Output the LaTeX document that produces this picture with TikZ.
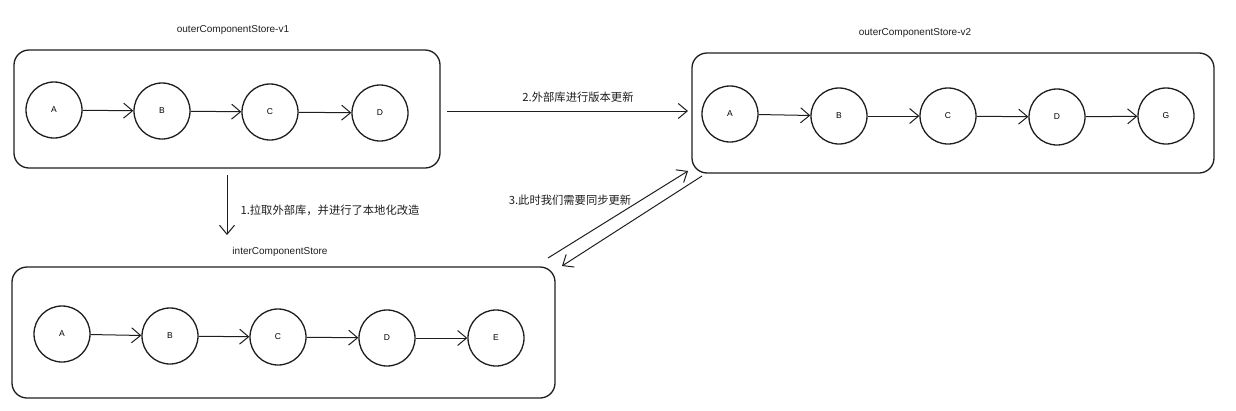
\documentclass[tikz,border=0pt]{standalone}
\usepackage{fontspec}
\setmainfont{Liberation Sans}
\newfontfamily\cjk{Noto Sans CJK SC}
\usetikzlibrary{positioning, arrows.meta}

\definecolor{ink}{HTML}{1E1E1E}

\begin{document}
\begin{tikzpicture}[x=1pt,y=-1pt,
  circ/.style={draw=ink, circle, line width=1.3pt, minimum size=56pt, inner sep=0pt, font=\fontsize{8.5}{9}\selectfont},
  store/.style={draw=ink, line width=1.3pt, rounded corners=15pt},
  title/.style={font=\fontsize{10}{12}\selectfont, text=ink},
  note/.style={font=\cjk\fontsize{11.3}{13}\selectfont, text=ink},
  link/.style={draw=ink, line width=1pt, -{Straight Barb[length=9pt,width=15pt]}}]
\useasboundingbox (0,0) rectangle (1236,410);
% outerComponentStore-v1
\node[title] (t1) at (233,30) {outerComponentStore-v1};
\draw[store] (14,50) rectangle (440,168);
\node[circ] (a1) at (54,110) {A};
\node[circ] (b1) at (162,111) {B};
\node[circ] (c1) at (270,112) {C};
\node[circ] (d1) at (380,113) {D};
\draw[link] (a1) -- (b1);
\draw[link] (b1) -- (c1);
\draw[link] (c1) -- (d1);
% outerComponentStore-v2
\node[title] (t2) at (915,33) {outerComponentStore-v2};
\draw[store] (692,53) rectangle (1214,173);
\node[circ] (a2) at (730,114) {A};
\node[circ] (b2) at (839,116) {B};
\node[circ] (c2) at (948,116) {C};
\node[circ] (d2) at (1057,117) {D};
\node[circ] (g2) at (1166,116) {G};
\draw[link] (a2) -- (b2);
\draw[link] (b2) -- (c2);
\draw[link] (c2) -- (d2);
\draw[link] (d2) -- (g2);
% interComponentStore
\node[title] (t3) at (280,252) {interComponentStore};
\draw[store] (12,267) rectangle (555,398);
\node[circ] (a3) at (62,334) {A};
\node[circ] (b3) at (170,336) {B};
\node[circ] (c3) at (278,337) {C};
\node[circ] (d3) at (387,338) {D};
\node[circ] (e3) at (496,338) {E};
\draw[link] (a3) -- (b3);
\draw[link] (b3) -- (c3);
\draw[link] (c3) -- (d3);
\draw[link] (d3) -- (e3);
% steps
\coordinate (p1) at (227,175);
\coordinate (q1) at (227,235);
\draw[link] (p1) -- (q1);
\node[note, anchor=west] (n1) at (237,210) {1.拉取外部库，并进行了本地化改造};
\coordinate (p2) at (447,111);
\coordinate (q2) at (688,111);
\draw[link] (p2) -- (q2);
\node[note] (n2) at (578,97) {2.外部库进行版本更新};
\coordinate (p3) at (548,258);
\coordinate (q3) at (688,171);
\draw[link] (p3) -- (q3);
\coordinate (p4) at (702,176);
\coordinate (q4) at (562,266);
\draw[link] (p4) -- (q4);
\node[note] (n3) at (570,200) {3.此时我们需要同步更新};
\end{tikzpicture}
\end{document}
